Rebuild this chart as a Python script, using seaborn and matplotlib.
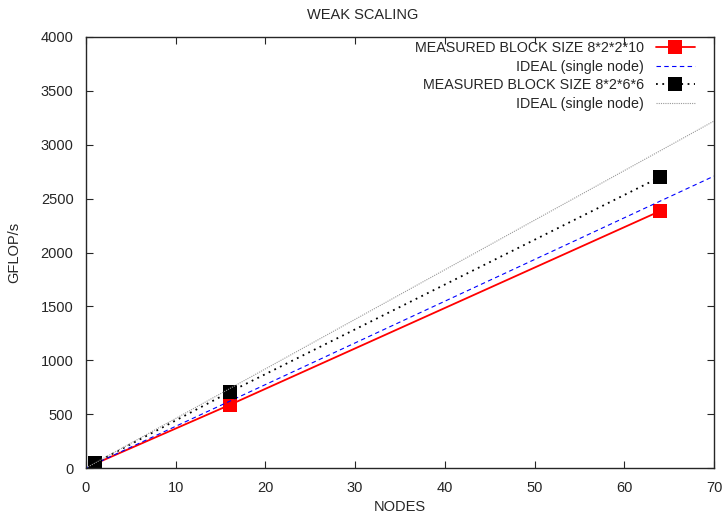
import numpy as np
import pandas as pd
import matplotlib
matplotlib.use("Agg")
import matplotlib.pyplot as plt
import seaborn as sns

# data
nodes = [1, 16, 64]
gflops_2_2_10 = [38.7, 585, 2385]
gflops_2_6_6 = [46, 705, 2700]
ideal_range = [0, 70]   # ideal lines run over the whole x axis
single_2_2_10 = gflops_2_2_10[0]
single_2_6_6 = gflops_2_6_6[0]

sns.set_style("ticks")
plt.rcParams['font.family'] = ['Liberation Sans', 'DejaVu Sans']

fig = plt.figure(figsize=(7.25, 5.14), dpi=100)
ax = fig.add_axes([86/725, 1 - 468/514, (714 - 86)/725, (468 - 37)/514])

df1 = pd.DataFrame({"nodes": nodes, "gflops": gflops_2_2_10})
df2 = pd.DataFrame({"nodes": nodes, "gflops": gflops_2_6_6})
ideal_x = np.array(ideal_range)

sns.lineplot(data=df1, x="nodes", y="gflops", ax=ax, color="red", lw=1.3,
             marker="s", markersize=10, markeredgewidth=0,
             label="MEASURED BLOCK SIZE 8*2*2*10")
sns.lineplot(x=ideal_x, y=ideal_x * single_2_2_10, ax=ax, color="blue", lw=0.8,
             linestyle=(0, (4, 3)), label="IDEAL (single node)")
sns.lineplot(data=df2, x="nodes", y="gflops", ax=ax, color="black", lw=1.3,
             linestyle=(0, (1, 2.5)), marker="s", markersize=10, markeredgewidth=0,
             label="MEASURED BLOCK SIZE 8*2*6*6")
sns.lineplot(x=ideal_x, y=ideal_x * single_2_6_6, ax=ax, color="#999999", lw=0.8,
             linestyle=(0, (1, 1)), label="IDEAL (single node)")

ax.set_xlim(0, 70)
ax.set_ylim(0, 4000)
ax.set_xticks(range(0, 71, 10))
ax.set_yticks(range(0, 4001, 500))
ax.tick_params(direction="in", length=5, width=0.8, top=True, right=True,
               labelsize=10.5, pad=9)
for s in ax.spines.values():
    s.set_linewidth(1.0)
    s.set_visible(True)

ax.set_xlabel("NODES", fontsize=10.5, labelpad=4)
ax.set_ylabel("GFLOP/s", fontsize=10.5, labelpad=14)
fig.text(0.5, 1 - 15/514, "WEAK SCALING", ha="center", va="center", fontsize=10.5)

leg = ax.legend(loc="upper right", frameon=False, markerfirst=False,
                fontsize=10.3, handlelength=2.75, labelspacing=0.32,
                borderaxespad=0.5, borderpad=0.2, handletextpad=0.8)
for t in leg.get_texts():
    t.set_ha("right")
leg._legend_box.align = "right"
leg.set_bbox_to_anchor((1 - 9/628, 1 + 6/431), transform=ax.transAxes)

fig.savefig("out.png", dpi=100)
